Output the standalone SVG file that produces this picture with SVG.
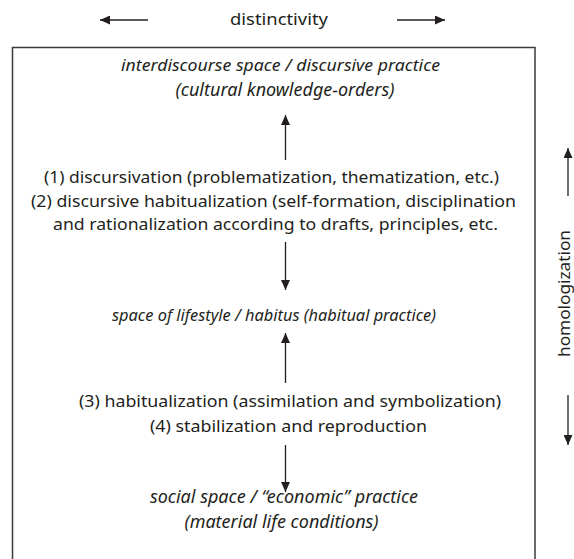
<svg xmlns="http://www.w3.org/2000/svg" width="574" height="559" viewBox="0 0 574 559">
  <defs>
    <marker id="head" markerUnits="userSpaceOnUse" markerWidth="10" markerHeight="9" refX="10" refY="4.5" orient="auto">
      <path d="M0,0 L10,4.5 L0,9 Z" fill="#231f20"/>
    </marker>
    <style>
      text { font-family: "Noto Sans", "Open Sans", "Liberation Sans", sans-serif; font-size: 16.5px; fill: #231f20; }
      .it { font-style: italic; font-size: 17px; }
      .big { font-size: 18px; }
      .mid { text-anchor: middle; }
      .arrow { stroke: #231f20; stroke-width: 1.3; fill: none; marker-end: url(#head); }
      .frame { stroke: #3a3a3a; stroke-width: 1.5; fill: none; }
    </style>
  </defs>

  <rect width="574" height="559" fill="#ffffff"/>

  <!-- outer frame (bottom edge runs off the page) -->
  <rect class="frame" x="12.5" y="47.5" width="522.5" height="530"/>

  <!-- distinctivity axis -->
  <g id="distinctivity">
    <text x="230" y="25" textLength="98" lengthAdjust="spacingAndGlyphs">distinctivity</text>
  </g>

  <!-- homologization axis -->
  <g id="homologization">
    <text transform="translate(569.5,357) rotate(-90)" x="0" y="0" textLength="127" lengthAdjust="spacingAndGlyphs">homologization</text>
  </g>

  <g id="interdiscourse">
    <text class="it" x="121" y="71" textLength="319" lengthAdjust="spacingAndGlyphs">interdiscourse space / discursive practice</text>
    <text class="it big mid" x="285" y="96">(cultural knowledge-orders)</text>
  </g>

  <g id="discursivation">
    <text x="44" y="183" textLength="455" lengthAdjust="spacingAndGlyphs">(1) discursivation (problematization, thematization, etc.)</text>
    <text x="31" y="207" textLength="485" lengthAdjust="spacingAndGlyphs">(2) discursive habitualization (self-formation, disciplination</text>
    <text x="53" y="230" textLength="445" lengthAdjust="spacingAndGlyphs">and rationalization according to drafts, principles, etc.</text>
  </g>

  <g id="lifestyle">
    <text class="it" x="112" y="321" textLength="324" lengthAdjust="spacingAndGlyphs">space of lifestyle / habitus (habitual practice)</text>
  </g>

  <g id="habitualization">
    <text x="79" y="407" textLength="422" lengthAdjust="spacingAndGlyphs">(3) habitualization (assimilation and symbolization)</text>
    <text x="150" y="432" textLength="277" lengthAdjust="spacingAndGlyphs">(4) stabilization and reproduction</text>
  </g>

  <g id="social-space">
    <text class="it big mid" x="284" y="503">social space / “economic” practice</text>
    <text class="it big mid" x="281.5" y="528">(material life conditions)</text>
  </g>

  <g id="connectors">
    <line class="arrow" x1="148" y1="20" x2="100" y2="20"/>
    <line class="arrow" x1="397" y1="20" x2="445" y2="20"/>
    <line class="arrow" x1="568" y1="196" x2="568" y2="148"/>
    <line class="arrow" x1="568" y1="395" x2="568" y2="445"/>
    <line class="arrow" x1="285.5" y1="160" x2="285.5" y2="115"/>
    <line class="arrow" x1="285.5" y1="242" x2="285.5" y2="290"/>
    <line class="arrow" x1="285.5" y1="383" x2="285.5" y2="333"/>
    <line class="arrow" x1="285.5" y1="445" x2="285.5" y2="492"/>
  </g>
</svg>
